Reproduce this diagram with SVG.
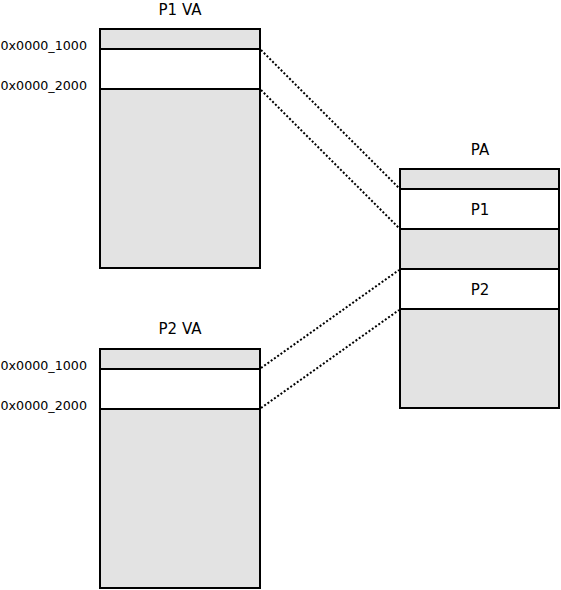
<svg xmlns="http://www.w3.org/2000/svg" width="561" height="590" viewBox="0 0 561 590">
<style>
.box{fill:#e3e3e3;stroke:#000;stroke-width:2}
.band{fill:#fff;stroke:#000;stroke-width:2}
.t{font-family:"DejaVu Sans",sans-serif;font-size:15px;text-anchor:middle;fill:#000}
.a{font-family:"DejaVu Sans",sans-serif;font-size:13px;text-anchor:start;fill:#000}
.c{fill:none;stroke:#000;stroke-width:2;stroke-dasharray:2,2}
</style>
<rect width="561" height="590" fill="#fff"/>
<g id="p1va">
<text class="t" x="180" y="15">P1 VA</text>
<rect class="box" x="100" y="29" width="160" height="239"/>
<rect class="band" x="100" y="49" width="160" height="40"/>
<text class="a" x="0.5" y="50" textLength="86.5" lengthAdjust="spacingAndGlyphs">0x0000_1000</text>
<text class="a" x="0.5" y="90" textLength="86.5" lengthAdjust="spacingAndGlyphs">0x0000_2000</text>
</g>
<g id="p2va">
<text class="t" x="180" y="334">P2 VA</text>
<rect class="box" x="100" y="349" width="160" height="239"/>
<rect class="band" x="100" y="369" width="160" height="40"/>
<text class="a" x="0.5" y="370" textLength="86.5" lengthAdjust="spacingAndGlyphs">0x0000_1000</text>
<text class="a" x="0.5" y="410" textLength="86.5" lengthAdjust="spacingAndGlyphs">0x0000_2000</text>
</g>
<g id="pa">
<text class="t" x="480" y="155">PA</text>
<rect class="box" x="400" y="169" width="159" height="239"/>
<rect class="band" x="400" y="189" width="159" height="40"/>
<rect class="band" x="400" y="269" width="159" height="40"/>
<text class="t" x="480" y="215">P1</text>
<text class="t" x="480" y="295">P2</text>
</g>
<g id="connectors">
<line class="c" x1="261" y1="50" x2="399" y2="188"/>
<line class="c" x1="261" y1="90" x2="399" y2="228"/>
<line class="c" x1="261" y1="368" x2="399" y2="270"/>
<line class="c" x1="261" y1="408" x2="399" y2="310"/>
</g>
</svg>
